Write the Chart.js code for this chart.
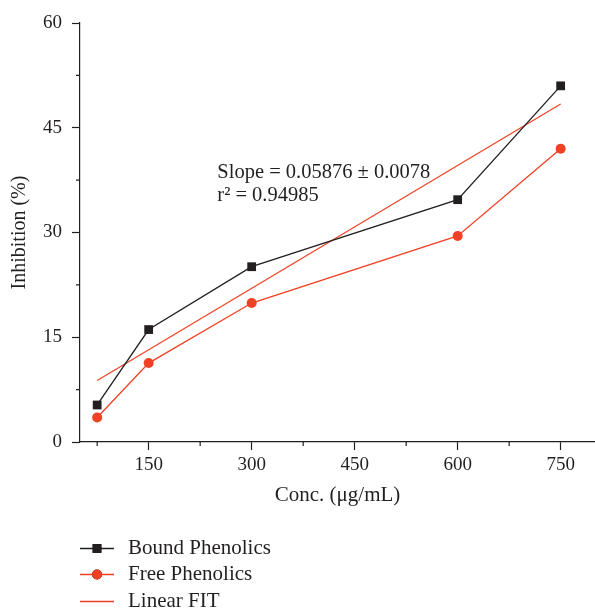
<!DOCTYPE html>
<html>
<head>
<meta charset="utf-8">
<script src="https://cdn.jsdelivr.net/npm/chart.js@4/dist/chart.umd.min.js"></script>
<style>
  html, body { margin: 0; padding: 0; background: #fff; }
  canvas { display: block; }
</style>
</head>
<body>
<canvas id="chart" width="595" height="608"></canvas>
<script>
// values
const concentrations = [75, 150, 300, 600, 750];
const boundPhenolics = [5.3, 16.1, 25.1, 34.7, 51.0];
const freePhenolics = [3.5, 11.3, 19.9, 29.5, 42.0];
const fitX = [75, 750];
const fitY = [8.8, 48.4];

const xTicks = [150, 300, 450, 600, 750];
const xMinorTicks = [75, 225, 375, 525, 675];
const yTicks = [0, 15, 30, 45, 60];
const yMinorTicks = [7.5, 22.5, 37.5, 52.5];

const fitText = ['Slope = 0.05876 \u00b1 0.0078', 'r\u00b2 = 0.94985'];

const INK = '#231f20';
const RED = '#ef4123';
const SERIF = '"Liberation Serif", "DejaVu Serif", serif';

function toPoints(xs, ys) {
  return xs.map((x, i) => ({ x, y: ys[i] }));
}

// short unlabeled ticks half way between the labelled ones
const minorTicks = {
  id: 'minorTicks',
  afterDraw(chart) {
    const { ctx, scales: { x, y } } = chart;
    ctx.save();
    ctx.strokeStyle = INK;
    ctx.lineWidth = 1.2;
    ctx.beginPath();
    xMinorTicks.forEach(v => {
      const px = x.getPixelForValue(v);
      ctx.moveTo(px, y.bottom);
      ctx.lineTo(px, y.bottom + 4);
    });
    yMinorTicks.forEach(v => {
      const py = y.getPixelForValue(v);
      ctx.moveTo(x.left, py);
      ctx.lineTo(x.left - 4, py);
    });
    ctx.stroke();
    ctx.restore();
  }
};

const fitLabel = {
  id: 'fitLabel',
  afterDatasetsDraw(chart) {
    const { ctx, scales: { x, y } } = chart;
    ctx.save();
    ctx.fillStyle = INK;
    ctx.font = `20.5px ${SERIF}`;
    ctx.textAlign = 'left';
    ctx.textBaseline = 'alphabetic';
    ctx.fillText(fitText[0], x.getPixelForValue(250), y.getPixelForValue(37.85));
    ctx.fillText(fitText[1], x.getPixelForValue(250), y.getPixelForValue(34.5));
    ctx.restore();
  }
};

// vertical legend under the x axis title
const stackedLegend = {
  id: 'stackedLegend',
  afterDraw(chart) {
    const { ctx } = chart;
    const rows = [548.5, 574.5, 601.5];
    ctx.save();
    ctx.font = `21px ${SERIF}`;
    ctx.textBaseline = 'middle';
    chart.data.datasets.forEach((ds, i) => {
      const cy = rows[i];
      ctx.strokeStyle = ds.borderColor;
      ctx.lineWidth = 1.3;
      ctx.beginPath();
      ctx.moveTo(80, cy);
      ctx.lineTo(114, cy);
      ctx.stroke();
      if (ds.pointRadius > 0) {
        Chart.helpers.drawPoint(ctx, {
          pointStyle: ds.pointStyle,
          radius: ds.pointRadius,
          borderWidth: 0,
          rotation: 0
        }, 97, cy);
        ctx.fillStyle = ds.pointBackgroundColor;
        ctx.fill();
      }
      ctx.fillStyle = INK;
      ctx.fillText(ds.label, 128, cy);
    });
    ctx.restore();
  }
};

new Chart(document.getElementById('chart'), {
  type: 'line',
  data: {
    datasets: [
      {
        label: 'Bound Phenolics',
        data: toPoints(concentrations, boundPhenolics),
        borderColor: INK,
        backgroundColor: INK,
        pointBackgroundColor: INK,
        pointBorderWidth: 0,
        borderWidth: 1.3,
        pointStyle: 'rect',
        pointRadius: 6.2
      },
      {
        label: 'Free Phenolics',
        data: toPoints(concentrations, freePhenolics),
        borderColor: RED,
        backgroundColor: RED,
        pointBackgroundColor: RED,
        pointBorderWidth: 0,
        borderWidth: 1.3,
        pointStyle: 'circle',
        pointRadius: 5
      },
      {
        label: 'Linear FIT',
        data: toPoints(fitX, fitY),
        borderColor: RED,
        backgroundColor: RED,
        borderWidth: 1.2,
        pointRadius: 0
      }
    ]
  },
  options: {
    responsive: false,
    animation: false,
    devicePixelRatio: 1,
    layout: { autoPadding: false, padding: { top: 23, right: 0, bottom: 0, left: 0 } },
    plugins: {
      legend: { display: false },
      tooltip: { enabled: false }
    },
    scales: {
      x: {
        type: 'linear',
        min: 50,
        max: 800,
        afterBuildTicks: (scale) => { scale.ticks = xTicks.map(v => ({ value: v })); },
        afterFit: (scale) => {
          scale.height = 166;
          scale.paddingLeft = 0;
          scale.paddingRight = 0;
        },
        border: { color: INK, width: 1.2 },
        grid: { drawOnChartArea: false, drawTicks: true, tickLength: 8, tickColor: INK, tickWidth: 1.2 },
        ticks: { color: INK, font: { family: SERIF, size: 19 }, padding: 4, maxRotation: 0 },
        title: {
          display: true,
          text: 'Conc. (\u03bcg/mL)',
          color: INK,
          font: { family: SERIF, size: 21 },
          padding: { top: 0, bottom: 100 }
        }
      },
      y: {
        min: 0,
        max: 60,
        afterBuildTicks: (scale) => { scale.ticks = yTicks.map(v => ({ value: v })); },
        afterFit: (scale) => { scale.width = 80; },
        border: { color: INK, width: 1.2 },
        grid: { drawOnChartArea: false, drawTicks: true, tickLength: 8, tickColor: INK, tickWidth: 1.2 },
        ticks: { color: INK, font: { family: SERIF, size: 19 }, padding: 10 },
        title: {
          display: true,
          text: 'Inhibition (%)',
          color: INK,
          font: { family: SERIF, size: 20 },
          padding: { top: 8, bottom: 0 }
        }
      }
    }
  },
  plugins: [minorTicks, fitLabel, stackedLegend]
});
</script>
</body>
</html>
